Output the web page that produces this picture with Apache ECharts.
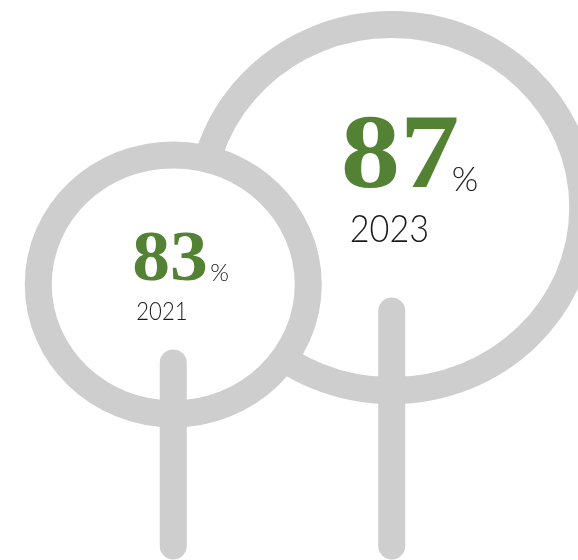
<!DOCTYPE html>
<html>
<head>
<meta charset="utf-8">
<script src="https://cdn.jsdelivr.net/npm/echarts@6/dist/echarts.min.js"></script>
<style>
  html, body { margin: 0; padding: 0; background: #fff; }
  #chart { width: 578px; height: 560px; }
</style>
</head>
<body>
<div id="chart"></div>
<script>
const years = ['2021', '2023'];
const shares = [83, 87];

const RING = '#cecece';
const GREEN = '#538234';

// drawing sizes per tree (px), same order as years
const trees = [
  { rx: 135, ry: 129.5, stemTop: 65, num: [-41, -23], numScale: 1.05, pct: [37, -11], year: [-37, 27], yearScale: 0.85, numSize: 72, pctSize: 24, yearSize: 26 },
  { rx: 191, ry: 183, stemTop: 90, num: [-51, -48], numScale: 1.12, pct: [60, -28], year: [-42, 22], yearScale: 0.9, numSize: 106, pctSize: 34, yearSize: 38 }
];

function renderTree(params, api) {
  const i = params.dataIndex;
  const t = trees[i];
  const c = api.coord([api.value(0), api.value(1)]);
  const bottom = api.getHeight();
  const z2 = (years.length - i) * 10;
  return {
    type: 'group',
    children: [
      {
        type: 'ellipse',
        shape: { cx: c[0], cy: c[1], rx: t.rx, ry: t.ry },
        style: { fill: '#fff', stroke: RING, lineWidth: 27 },
        z2: z2
      },
      {
        type: 'line',
        shape: { x1: c[0], y1: c[1] + t.stemTop + 13.5, x2: c[0], y2: bottom - 14 },
        style: { stroke: RING, lineWidth: 27, lineCap: 'round' },
        z2: z2 + 1
      },
      {
        type: 'text',
        x: c[0] + t.num[0], y: c[1] + t.num[1],
        scaleX: t.numScale,
        style: {
          text: String(api.value(1)), fill: GREEN,
          font: 'bold ' + t.numSize + 'px "Liberation Serif"',
          align: 'left', verticalAlign: 'middle'
        },
        z2: z2 + 2
      },
      {
        type: 'text',
        x: c[0] + t.pct[0], y: c[1] + t.pct[1],
        style: {
          text: '%', fill: '#1a1a1a',
          font: '300 ' + t.pctSize + 'px Lato',
          align: 'left', verticalAlign: 'middle'
        },
        z2: z2 + 2
      },
      {
        type: 'text',
        x: c[0] + t.year[0], y: c[1] + t.year[1],
        scaleX: t.yearScale,
        style: {
          text: years[i], fill: '#1a1a1a',
          font: '300 ' + t.yearSize + 'px Lato',
          align: 'left', verticalAlign: 'middle'
        },
        z2: z2 + 2
      }
    ]
  };
}

const chart = echarts.init(document.getElementById('chart'));
chart.setOption({
  animation: false,
  grid: { left: 64, right: 77, top: 150, height: 192 },
  xAxis: { type: 'category', data: years, show: false },
  yAxis: { type: 'value', min: 80, max: 90, show: false },
  series: [
    {
      type: 'custom',
      clip: false,
      renderItem: renderTree,
      data: shares.map((v, i) => [i, v])
    }
  ]
});
</script>
</body>
</html>
